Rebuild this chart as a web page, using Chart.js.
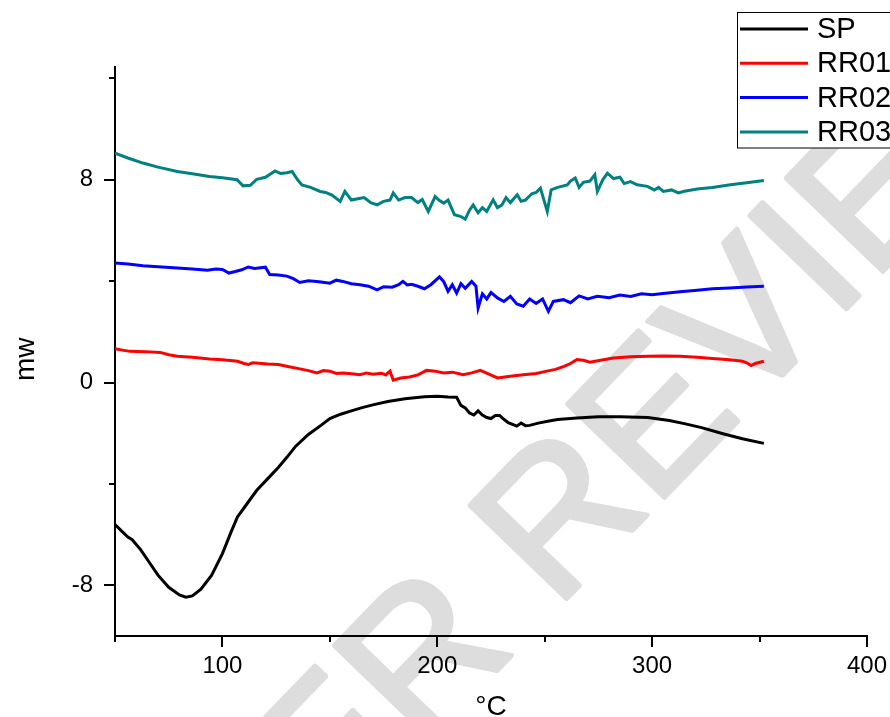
<!DOCTYPE html>
<html>
<head>
<meta charset="utf-8">
<title>DSC curves</title>
<script src="https://cdn.jsdelivr.net/npm/chart.js@4.4.1/dist/chart.umd.min.js"></script>
<style>
  html, body { margin: 0; padding: 0; background: #fff; }
  canvas { display: block; }
</style>
</head>
<body>
<canvas id="myChart" width="890" height="717"></canvas>
<script>
// series names
let seriesNames = ['SP', 'RR01', 'RR02', 'RR03'];
let seriesColors = ['#000000', '#ff0000', '#0000ff', '#008080'];

// SP (black)
let spTemp = [50, 53, 56, 58, 62, 66, 70, 75, 80, 83, 86, 90, 95, 100, 104, 107, 110, 116, 121, 126, 130, 134, 140, 146, 150, 155, 160, 165, 170, 177, 185, 194, 200, 205, 209, 211, 213, 215, 217, 219, 221, 223, 225, 227, 229, 231, 233, 235, 237, 239, 241, 243, 247, 252, 256, 265, 275, 285, 298, 308, 315, 323, 333, 342, 352];
let spMw = [-5.6, -5.85, -6.1, -6.2, -6.6, -7.1, -7.6, -8.08, -8.38, -8.47, -8.42, -8.15, -7.6, -6.75, -5.9, -5.3, -4.95, -4.25, -3.8, -3.35, -2.95, -2.52, -2.05, -1.68, -1.42, -1.25, -1.12, -0.99, -0.88, -0.75, -0.64, -0.56, -0.54, -0.57, -0.58, -0.9, -1.0, -1.2, -1.28, -1.12, -1.28, -1.38, -1.42, -1.3, -1.3, -1.45, -1.58, -1.65, -1.72, -1.6, -1.7, -1.69, -1.6, -1.52, -1.46, -1.4, -1.35, -1.35, -1.38, -1.5, -1.62, -1.78, -2.02, -2.22, -2.4];

// RR01 (red)
let rr01Temp = [50, 54, 57, 64, 71, 75, 79, 86, 94, 100, 107, 110, 112, 114, 117, 121, 126, 131, 136, 140, 144, 147, 150, 153, 156, 160, 164, 167, 170, 174, 176, 178, 179.5, 183, 187, 191, 195, 199, 203, 207, 212, 216, 220, 224, 228, 234, 240, 246, 251, 255, 259, 262, 265, 268, 271, 276, 282, 290, 298, 305, 313, 321, 328, 336, 342, 344, 346, 348, 352];
let rr01Mw = [1.33, 1.27, 1.23, 1.22, 1.19, 1.1, 1.04, 1.0, 0.93, 0.9, 0.84, 0.75, 0.71, 0.78, 0.76, 0.73, 0.71, 0.62, 0.54, 0.47, 0.38, 0.47, 0.45, 0.36, 0.38, 0.35, 0.31, 0.38, 0.33, 0.37, 0.3, 0.45, 0.09, 0.18, 0.22, 0.3, 0.48, 0.45, 0.38, 0.41, 0.31, 0.38, 0.48, 0.33, 0.18, 0.25, 0.31, 0.36, 0.45, 0.52, 0.64, 0.75, 0.91, 0.88, 0.8, 0.88, 0.97, 1.02, 1.04, 1.05, 1.04, 1.0, 0.95, 0.9, 0.84, 0.78, 0.67, 0.75, 0.84];

// RR02 (blue)
let rr02Temp = [50, 56, 63, 70, 79, 86, 93, 97, 100, 103, 106, 109, 112, 115, 120, 122, 126, 130, 133, 136, 140, 145, 150, 153, 156, 160, 164, 168, 172, 175, 179, 182, 184, 186, 188, 191, 194, 197, 201, 203, 205, 207, 209, 211, 213, 216, 218, 219, 221, 223, 225, 228, 231, 234, 237, 240, 243, 246, 249, 251.7, 254, 258.7, 262, 266, 270, 274.5, 280, 285, 290, 295, 300, 305, 313, 321, 328, 336, 344, 352];
let rr02Mw = [4.72, 4.68, 4.61, 4.57, 4.52, 4.48, 4.43, 4.48, 4.46, 4.32, 4.38, 4.45, 4.56, 4.5, 4.55, 4.26, 4.24, 4.2, 4.1, 3.95, 4.02, 3.98, 3.92, 4.04, 3.99, 3.9, 3.86, 3.8, 3.66, 3.78, 3.76, 3.86, 3.99, 3.85, 3.88, 3.8, 3.7, 3.86, 4.17, 3.98, 3.6, 3.86, 3.53, 3.9, 3.72, 3.99, 3.8, 2.94, 3.5, 3.3, 3.55, 3.34, 3.2, 3.4, 3.1, 3.01, 3.3, 3.12, 3.3, 2.81, 3.2, 3.27, 3.15, 3.42, 3.3, 3.4, 3.35, 3.45, 3.4, 3.5, 3.46, 3.51, 3.58, 3.64, 3.7, 3.73, 3.77, 3.8];

// RR03 (teal)
let rr03Temp = [50, 56, 63, 70, 79, 86, 94, 100, 106.8, 109.6, 113, 116, 120, 124.5, 127, 130, 132.4, 135, 137, 141, 145.5, 148, 151, 154.8, 157, 160, 163, 166, 169, 172, 175, 178, 179.5, 182, 185, 188, 191, 193, 195.8, 199, 201, 203, 205, 208, 211, 213, 215, 216.7, 219, 221, 223, 226, 228, 230, 232, 234, 237.2, 239, 241, 244, 246, 248, 251.2, 253, 256, 260.5, 262, 264.2, 266, 268, 271, 273.3, 274.5, 277, 279.2, 282, 285, 287, 289.9, 293, 297.8, 301, 303, 305.2, 309, 312.2, 315, 321, 328, 336.4, 344, 352];
let rr03Mw = [9.05, 8.86, 8.66, 8.5, 8.33, 8.24, 8.13, 8.08, 8.0, 7.76, 7.78, 8.02, 8.1, 8.35, 8.25, 8.28, 8.33, 8.0, 7.8, 7.7, 7.54, 7.5, 7.4, 7.15, 7.54, 7.2, 7.25, 7.3, 7.1, 7.01, 7.15, 7.2, 7.48, 7.2, 7.3, 7.3, 7.1, 7.22, 6.75, 7.34, 7.18, 7.08, 7.2, 6.62, 6.55, 6.45, 6.8, 7.01, 6.7, 6.9, 6.75, 7.21, 6.9, 7.0, 7.3, 7.1, 7.41, 7.15, 7.2, 7.45, 7.5, 7.67, 6.75, 7.6, 7.7, 7.8, 7.95, 8.07, 7.7, 7.9, 7.95, 8.2, 7.54, 8.0, 8.26, 8.05, 8.1, 7.85, 7.93, 7.8, 7.74, 7.6, 7.7, 7.54, 7.6, 7.48, 7.55, 7.64, 7.7, 7.8, 7.88, 7.97];

// axis setup
let xMin = 50, xMax = 400, xStep = 50, xLabelEvery = 100;
let yMin = -10, yMax = 12.45, yStep = 4, yLabelEvery = 8;
let xTitle = '°C';
let yTitle = 'mw  '; // trailing spaces nudge it down a bit
let watermark = 'PEER REVIEW';

let fontFamily = "'Liberation Sans', Arial, sans-serif";

function toPoints(xs, ys) {
  let pts = [];
  for (let i = 0; i < xs.length; i++) {
    pts.push({ x: xs[i], y: ys[i] });
  }
  return pts;
}

let allTemps = [spTemp, rr01Temp, rr02Temp, rr03Temp];
let allMw = [spMw, rr01Mw, rr02Mw, rr03Mw];
let datasets = [];
for (let i = 0; i < seriesNames.length; i++) {
  datasets.push({
    label: seriesNames[i],
    data: toPoints(allTemps[i], allMw[i]),
    borderColor: seriesColors[i],
    backgroundColor: seriesColors[i],
    borderWidth: 3,
    pointRadius: 0,
    tension: 0,
    fill: false
  });
}

// grey diagonal stamp behind the plot
const stamp = {
  id: 'stamp',
  beforeDraw(chart) {
    const ctx = chart.ctx;
    ctx.save();
    ctx.translate(149, 1031);
    ctx.rotate(-46 * Math.PI / 180);
    ctx.font = "195px 'Liberation Sans', sans-serif";
    ctx.fillStyle = '#dddddd';
    ctx.strokeStyle = '#dddddd';
    ctx.lineWidth = 5;
    ctx.lineJoin = 'round';
    ctx.textBaseline = 'alphabetic';
    ctx.fillText(watermark, 0, 0);
    ctx.strokeText(watermark, 0, 0);
    ctx.restore();
  }
};

// draws the outward tick marks, long ones where a label is shown
const tickMarks = {
  id: 'tickMarks',
  afterDraw(chart) {
    const ctx = chart.ctx;
    ctx.save();
    ctx.strokeStyle = '#000';
    ctx.lineWidth = 2;
    const xs = chart.scales.x;
    xs.ticks.forEach(t => {
      let px = Math.round(xs.getPixelForValue(t.value));
      let len = (t.value % xLabelEvery === 0) ? 11 : 6;
      ctx.beginPath();
      ctx.moveTo(px, xs.top);
      ctx.lineTo(px, xs.top + len);
      ctx.stroke();
    });
    const ys = chart.scales.y;
    ys.ticks.forEach(t => {
      let py = Math.round(ys.getPixelForValue(t.value));
      let len = (t.value % yLabelEvery === 0) ? 11 : 6;
      ctx.beginPath();
      ctx.moveTo(ys.right, py);
      ctx.lineTo(ys.right - len, py);
      ctx.stroke();
    });
    ctx.restore();
  }
};

// legend box in the top right corner, partly cut by the edge like the original
const cornerLegend = {
  id: 'cornerLegend',
  afterDraw(chart) {
    const ctx = chart.ctx;
    ctx.save();
    ctx.fillStyle = '#fff';
    ctx.fillRect(737.5, 12.5, 200, 135.5);
    ctx.strokeStyle = '#000';
    ctx.lineWidth = 1;
    ctx.strokeRect(737.5, 12.5, 200, 135.5);
    ctx.font = '29px ' + fontFamily;
    ctx.textBaseline = 'middle';
    ctx.textAlign = 'left';
    chart.data.datasets.forEach((ds, i) => {
      let cy = 29 + i * 34.3;
      ctx.strokeStyle = ds.borderColor;
      ctx.lineWidth = 3;
      ctx.beginPath();
      ctx.moveTo(740, cy);
      ctx.lineTo(808, cy);
      ctx.stroke();
      ctx.fillStyle = '#000';
      ctx.fillText(ds.label, 817, cy + 1);
    });
    ctx.restore();
  }
};

const ctx = document.getElementById('myChart').getContext('2d');

let options = {
  type: 'line',
  data: { datasets: datasets },
  options: {
    responsive: false,
    animation: false,
    layout: { padding: { top: 67, right: 23, bottom: 0, left: 0 } },
    plugins: {
      legend: { display: false },
      tooltip: { enabled: false }
    },
    scales: {
      x: {
        type: 'linear',
        min: xMin,
        max: xMax,
        grid: { display: false, drawTicks: false },
        border: { display: true, color: '#000', width: 2 },
        ticks: {
          stepSize: xStep,
          includeBounds: false,
          autoSkip: false,
          maxRotation: 0,
          padding: 16,
          color: '#000',
          font: { family: fontFamily, size: 24 },
          callback: v => (v % xLabelEvery === 0 ? String(v) : '')
        },
        title: {
          display: true,
          text: xTitle,
          color: '#000',
          font: { family: fontFamily, size: 28 },
          padding: { top: 0, bottom: -7 }
        },
        afterFit: scale => {
          scale.height = 81;
          scale.paddingLeft = 0;
          scale.paddingRight = 0;
        }
      },
      y: {
        type: 'linear',
        min: yMin,
        max: yMax,
        grid: { display: false, drawTicks: false },
        border: { display: true, color: '#000', width: 2 },
        ticks: {
          stepSize: yStep,
          includeBounds: false,
          autoSkip: false,
          padding: 22,
          color: '#000',
          font: { family: fontFamily, size: 24 },
          callback: v => (v % yLabelEvery === 0 ? String(v) : '')
        },
        title: {
          display: true,
          text: yTitle,
          color: '#000',
          font: { family: fontFamily, size: 28 },
          padding: { top: 9, bottom: 0 }
        },
        afterFit: scale => { scale.width = 115; }
      }
    }
  },
  plugins: [stamp, tickMarks, cornerLegend]
};

const myChart = new Chart(ctx, options);
</script>
</body>
</html>
